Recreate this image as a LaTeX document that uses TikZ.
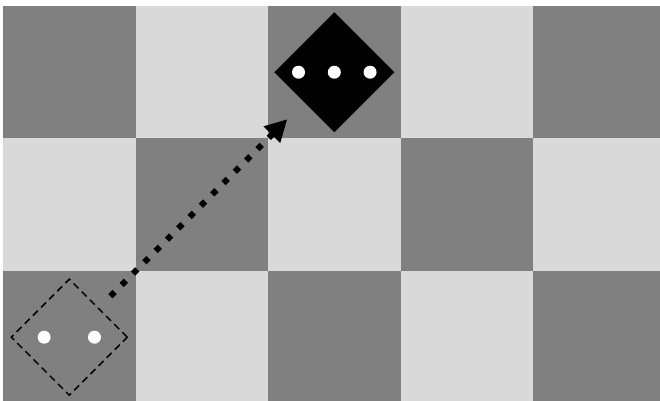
\documentclass[tikz,border=0pt]{standalone}
\usetikzlibrary{shapes.geometric,arrows.meta}
\begin{document}
\begin{tikzpicture}[x=132.5pt,y=132.5pt,
  dot/.style={circle,fill=white,inner sep=0pt,minimum size=13pt},
  piece/.style={diamond,inner sep=0pt,outer sep=0pt}]
\useasboundingbox (-0.023,0.019) rectangle (4.958,3.045);
\fill[white] (-0.023,0.019) rectangle (4.958,3.045);
\clip (-0.023,0.019) rectangle (4.958,3.045);
% board
\foreach \i in {0,...,4}
  \foreach \j in {0,...,2}{
    \pgfmathtruncatemacro{\p}{mod(\i+\j,2)}
    \ifnum\p=0 \fill[gray] (\i,\j) rectangle ++(1,1);
    \else \fill[black!15] (\i,\j) rectangle ++(1,1); \fi
  }
% old position (dashed)
\node[piece,draw,line width=1.5pt,dash pattern=on 7pt off 4.5pt,minimum size=116pt] (old) at (0.5,0.5) {};
\node[dot] (oldA) at (0.31,0.5) {};
\node[dot] (oldB) at (0.69,0.5) {};
% new position
\node[piece,fill=black,minimum size=120pt] (new) at (2.5,2.5) {};
\node[dot] (newA) at (2.23,2.5) {};
\node[dot] (newB) at (2.5,2.5) {};
\node[dot] (newC) at (2.77,2.5) {};
% move
\draw[line width=6pt,dash pattern=on 6pt off 10pt,-{Triangle[length=22pt,width=22pt]},
  shorten <=17pt,shorten >=24pt] (old) -- (new);
\end{tikzpicture}
\end{document}
